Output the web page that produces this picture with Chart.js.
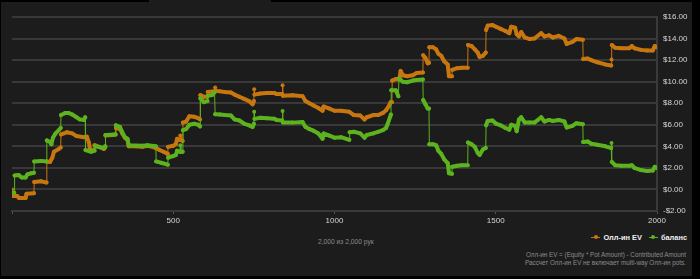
<!DOCTYPE html>
<html>
<head>
<meta charset="utf-8">
<script src="https://cdn.jsdelivr.net/npm/chart.js@4.4.1/dist/chart.umd.min.js"></script>
<style>
    body { margin: 0; width: 700px; height: 279px; background: #000; overflow: hidden; font-family: "Liberation Sans", Arial, sans-serif; }
    .panel { position: absolute; left: 1px; top: 2px; width: 691px; height: 274px; background: #1c1c1c; }
    .notch { position: absolute; left: 149px; top: 0; width: 122px; height: 2px; background: #1c1c1c; }
    .chart-box { position: absolute; left: 0; top: 0; width: 700px; height: 232px; }
    .hands { position: absolute; left: 318px; top: 238px; font-size: 6.7px; color: #8c8c8c; }
    .legend { position: absolute; right: 13px; top: 232px; font-size: 7.4px; font-weight: bold; color: #f0f0f0; white-space: nowrap; }
    .legend span { display: inline-block; vertical-align: middle; }
    .mark { position: relative; width: 9px; height: 6px; margin-right: 3px; }
    .mark::before { content: ""; position: absolute; left: 0; top: 2.5px; width: 9px; height: 1px; background: var(--c); }
    .mark::after { content: ""; position: absolute; left: 2.5px; top: 1px; width: 4px; height: 4px; border-radius: 50%; background: var(--c); }
    .legend .item { margin-left: 5px; }
    .notes { position: absolute; right: 14px; top: 251px; font-size: 6.3px; line-height: 7.7px; color: #8c8c8c; text-align: right; }
</style>
</head>
<body>
<div class="panel"></div>
<div class="notch"></div>
<div class="chart-box"><canvas id="evChart"></canvas></div>
<div class="hands">2,000 из 2,000 рук</div>
<div class="legend">
    <span class="item"><span class="mark" style="--c:#c8770f"></span><span>Олл-ин EV</span></span>
    <span class="item"><span class="mark" style="--c:#5cb31e"></span><span>баланс</span></span>
</div>
<div class="notes">Олл-ин EV = (Equity * Pot Amount) - Contributed Amount<br>Рассчет Олл-ин EV не включает multi-way Олл-ин pots.</div>
<script>
const evHands = [0, 1, 16, 22, 42, 45, 68, 69, 90, 107, 108, 118, 125, 130, 145, 151, 152, 170, 187, 200,
    223, 232, 239, 242, 254, 256, 270, 285, 289, 290, 310, 321, 322, 335, 342, 350, 358, 362, 380, 404,
    420, 441, 455, 470, 483, 484, 500, 508, 512, 520, 522, 524, 529, 530, 540, 550, 565, 578, 583, 584,
    595, 606, 607, 628, 630, 632, 645, 660, 679, 690, 705, 720, 735, 746, 750, 751, 752, 770, 790, 814,
    820, 838, 839, 840, 870, 901, 910, 922, 935, 950, 963, 966, 984, 1000, 1020, 1046, 1060, 1080, 1093, 1100,
    1120, 1135, 1150, 1160, 1168, 1174, 1178, 1179, 1190, 1201, 1205, 1212, 1225, 1243, 1255, 1274, 1275, 1282, 1289, 1293,
    1294, 1305, 1315, 1322, 1331, 1340, 1351, 1355, 1364, 1365, 1380, 1395, 1413, 1414, 1425, 1435, 1444, 1450, 1460, 1469,
    1470, 1475, 1490, 1501, 1515, 1530, 1542, 1548, 1560, 1565, 1572, 1579, 1590, 1605, 1620, 1641, 1651, 1665, 1677, 1695,
    1713, 1720, 1738, 1750, 1770, 1771, 1785, 1796, 1815, 1840, 1858, 1859, 1860, 1870, 1890, 1914, 1922, 1930, 1950, 1970,
    1987, 1993, 2000];
const evValues = [0.0, -0.6, -0.6, -0.8, -0.8, -0.4, -0.35, 0.7, 0.75, 0.65, 2.6, 2.55, 2.95, 3.5, 3.75, 3.9, 5.1, 5.3, 5.2, 4.95,
    4.85, 4.9, 4.3, 3.65, 3.65, 4.1, 3.95, 3.75, 3.9, 5.0, 5.05, 5.1, 5.7, 5.6, 5.2, 4.8, 4.6, 4.0, 4.0, 3.95,
    4.05, 3.9, 3.7, 3.5, 3.3, 3.95, 4.05, 4.2, 4.7, 4.6, 5.0, 4.6, 4.5, 6.2, 6.3, 6.8, 6.75, 6.6, 6.5, 8.75,
    8.6, 8.6, 9.05, 9.1, 9.45, 9.15, 9.1, 9.05, 9.0, 8.8, 8.6, 8.4, 8.2, 7.9, 8.2, 9.3, 8.8, 8.9, 8.95, 8.95,
    8.85, 8.85, 9.66, 8.7, 8.75, 8.65, 8.2, 8.0, 7.8, 7.55, 7.3, 7.7, 7.5, 7.3, 7.3, 7.2, 6.9, 6.85, 6.5, 6.7,
    6.9, 6.9, 7.1, 7.35, 7.7, 8.1, 8.1, 10.1, 10.25, 10.2, 11.0, 10.6, 10.5, 10.6, 10.8, 10.85, 12.45, 12.2, 11.7, 11.75,
    13.2, 13.2, 13.0, 12.6, 12.4, 11.9, 11.6, 10.5, 10.5, 11.1, 11.25, 11.3, 11.3, 13.4, 13.3, 13.0, 12.7, 12.3, 12.4, 12.7,
    14.8, 15.2, 15.25, 15.1, 14.9, 14.7, 14.5, 15.1, 15.0, 14.4, 14.2, 14.6, 14.1, 13.95, 14.0, 14.5, 14.2, 14.3, 14.1, 14.25,
    14.0, 13.5, 13.7, 13.95, 13.9, 12.1, 12.15, 12.0, 11.8, 11.6, 11.5, 12.05, 13.4, 13.15, 13.1, 13.1, 13.3, 13.1, 12.95, 12.9,
    12.9, 13.3, 13.2];

const balanceHands = [0, 7, 8, 20, 30, 42, 48, 60, 68, 69, 90, 107, 108, 118, 122, 127, 135, 145, 151, 152,
    165, 175, 187, 200, 210, 223, 227, 228, 245, 256, 258, 285, 289, 290, 321, 322, 335, 342, 350, 358,
    362, 404, 420, 446, 447, 465, 483, 484, 500, 508, 512, 520, 522, 524, 529, 530, 540, 550, 565, 578,
    583, 584, 595, 606, 607, 620, 628, 630, 645, 660, 679, 690, 705, 720, 735, 746, 750, 751, 752, 770,
    790, 814, 820, 838, 839, 840, 870, 901, 910, 922, 935, 950, 963, 966, 984, 1000, 1020, 1046, 1047, 1060,
    1080, 1093, 1100, 1120, 1135, 1150, 1160, 1165, 1175, 1176, 1190, 1198, 1200, 1212, 1225, 1243, 1255, 1274, 1275, 1282,
    1289, 1293, 1294, 1305, 1315, 1322, 1331, 1340, 1351, 1355, 1364, 1365, 1380, 1395, 1413, 1414, 1425, 1435, 1444, 1450,
    1460, 1469, 1470, 1475, 1490, 1501, 1515, 1530, 1542, 1548, 1560, 1565, 1572, 1579, 1590, 1605, 1620, 1641, 1651, 1665,
    1677, 1695, 1713, 1720, 1738, 1750, 1770, 1771, 1785, 1796, 1815, 1840, 1858, 1859, 1860, 1870, 1890, 1914, 1922, 1930,
    1950, 1970, 1987, 1993, 2000];
const balanceValues = [-0.3, -0.3, 1.3, 1.35, 1.1, 1.1, 1.4, 1.5, 1.55, 2.6, 2.65, 2.6, 4.55, 4.4, 4.2, 4.8, 5.2, 5.5, 5.7, 6.9,
    7.1, 7.1, 6.95, 6.7, 6.5, 6.45, 6.7, 3.65, 3.5, 3.6, 4.0, 3.85, 4.0, 5.05, 5.1, 5.95, 5.8, 5.3, 4.85, 4.7,
    4.1, 4.05, 4.1, 4.0, 2.6, 2.45, 2.3, 2.95, 3.1, 3.2, 3.6, 3.5, 4.1, 3.5, 3.5, 5.5, 5.6, 6.0, 6.1, 6.0,
    5.85, 8.45, 8.1, 8.2, 8.7, 8.75, 9.0, 6.97, 6.95, 6.9, 6.85, 6.5, 6.4, 6.1, 5.95, 5.8, 6.1, 7.2, 6.55, 6.65,
    6.6, 6.55, 6.45, 6.4, 7.28, 6.2, 6.2, 6.25, 5.8, 5.6, 5.45, 5.2, 4.7, 5.2, 5.0, 4.8, 4.85, 4.6, 5.3, 5.35,
    5.2, 4.8, 5.05, 5.2, 5.35, 5.5, 5.7, 6.1, 6.95, 9.2, 9.2, 8.65, 10.3, 10.0, 9.95, 10.1, 10.15, 10.2, 8.3, 7.9,
    7.5, 7.5, 4.2, 4.2, 4.1, 3.6, 3.3, 2.8, 2.45, 1.5, 1.45, 2.1, 2.2, 2.25, 2.25, 4.35, 4.2, 3.95, 3.4, 3.2,
    3.7, 3.85, 5.95, 6.35, 6.4, 6.1, 5.95, 5.7, 5.55, 6.0, 5.9, 5.4, 6.5, 6.7, 6.2, 6.2, 6.2, 6.7, 6.3, 6.45,
    6.35, 6.45, 6.3, 5.75, 5.9, 6.15, 6.05, 4.4, 4.45, 4.25, 4.15, 4.0, 3.85, 4.3, 2.55, 2.25, 2.2, 2.2, 2.25, 2.0,
    1.8, 1.7, 1.75, 2.1, 2.0];

const handTicks = [0, 500, 1000, 1500, 2000];
const moneyTicks = [-2, 0, 2, 4, 6, 8, 10, 12, 14, 16];

const EV_COLOR = '#c8770f';
const BALANCE_COLOR = '#5cb31e';

function toPoints(hands, values) {
    return hands.map((h, i) => ({ x: h, y: values[i] }));
}

// jumps between neighbouring hands are drawn as thin connectors
function segmentWidth(ctx) {
    return Math.abs(ctx.p1.parsed.x - ctx.p0.parsed.x) <= 2 ? 1 : 4;
}

function makeDataset(label, points, color, order) {
    return {
        label: label,
        data: points,
        borderColor: color,
        backgroundColor: color,
        borderWidth: 4,
        borderCapStyle: 'round',
        borderJoinStyle: 'round',
        pointRadius: 2,
        pointBorderWidth: 0,
        pointBackgroundColor: color,
        order: order,
        segment: { borderWidth: segmentWidth }
    };
}

function formatMoney(v) {
    return (v < 0 ? '-$' : '$') + Math.abs(v).toFixed(2);
}

document.addEventListener('DOMContentLoaded', () => {
    const ctx = document.getElementById('evChart').getContext('2d');
    new Chart(ctx, {
        type: 'line',
        data: {
            datasets: [
                makeDataset('Олл-ин EV', toPoints(evHands, evValues), EV_COLOR, 1),
                makeDataset('баланс', toPoints(balanceHands, balanceValues), BALANCE_COLOR, 0)
            ]
        },
        options: {
            responsive: true,
            maintainAspectRatio: false,
            animation: false,
            layout: { padding: { top: 17, left: 12, right: 7, bottom: 2 } },
            plugins: {
                legend: { display: false },
                tooltip: { enabled: false }
            },
            scales: {
                x: {
                    type: 'linear',
                    min: 0,
                    max: 2000,
                    afterBuildTicks: (scale) => { scale.ticks = handTicks.map(v => ({ value: v })); },
                    afterFit: (scale) => { scale.height = 19; },
                    grid: { drawOnChartArea: false, color: '#555', tickLength: 3 },
                    border: { color: '#3a3a3a', width: 2 },
                    ticks: {
                        padding: 2,
                        color: '#d6d6d6',
                        font: { family: '"Liberation Sans", Arial, sans-serif', size: 8 },
                        maxRotation: 0,
                        callback: (v) => v === 0 ? '' : String(v)
                    }
                },
                y: {
                    position: 'right',
                    min: -2,
                    max: 16,
                    afterBuildTicks: (scale) => { scale.ticks = moneyTicks.map(v => ({ value: v })); },
                    afterFit: (scale) => { scale.width = 36; },
                    grid: { color: '#383838', lineWidth: 2, drawTicks: false },
                    border: { color: '#3a3a3a', width: 2 },
                    ticks: {
                        padding: 6,
                        color: '#d6d6d6',
                        font: { family: '"Liberation Sans", Arial, sans-serif', size: 8 },
                        callback: formatMoney
                    }
                }
            }
        }
    });
});
</script>
</body>
</html>
